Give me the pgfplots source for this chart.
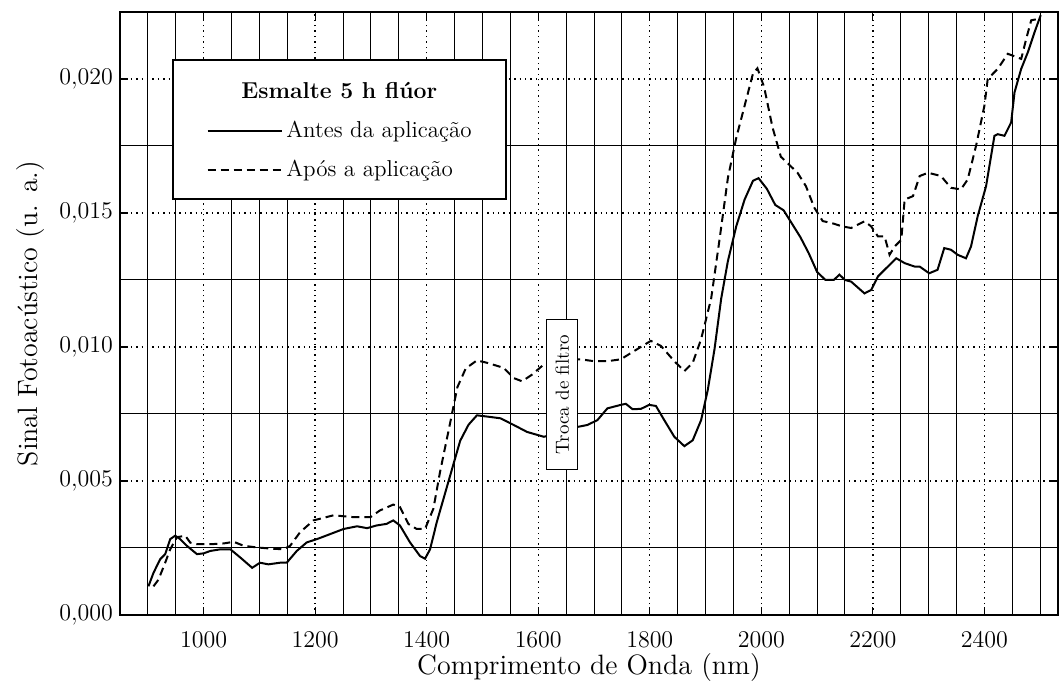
\documentclass[border=0pt]{standalone}
\usepackage{fontspec}
\usepackage{pgfplots}
\pgfplotsset{compat=1.18}
\begin{document}
\begin{tikzpicture}
\begin{axis}[
 scale only axis, width=469pt, height=301.5pt,
 xmin=850, xmax=2532, ymin=0, ymax=0.0225,
 xtick={1000,1200,1400,1600,1800,2000,2200,2400},
 minor xtick={900,950,1050,1100,1150,1250,1300,1350,1450,1500,1550,1650,1700,1750,1850,1900,1950,2050,2100,2150,2250,2300,2350,2450,2500},
 ytick={0,0.005,0.01,0.015,0.02},
 minor ytick={0.0025,0.0075,0.0125,0.0175},
 grid=both,
 major grid style={black, line width=0.7pt, dotted},
 minor grid style={black, line width=0.5pt},
 tick style={black, line width=0.6pt},
 major tick length=4pt, minor tick length=0pt,
 tick align=inside,
 axis line style={line width=0.9pt},
 scaled y ticks=false,
 yticklabel style={/pgf/number format/.cd, fixed, fixed zerofill, precision=3, use comma},
 xticklabel style={/pgf/number format/1000 sep={}, yshift=-5pt},
 ticklabel style={font=\fontsize{12}{14}\selectfont},
 label style={font=\fontsize{14}{16}\selectfont},
 xlabel={Comprimento de Onda (nm)},
 ylabel={Sinal Fotoacústico (u. a.)},
 xlabel style={at={(axis description cs:0.5,-0.0879)}, anchor=center},
 ylabel style={at={(axis description cs:-0.0959,0.5)}, anchor=center},
]
% Antes da aplicacao
\addplot[black, line width=1pt] coordinates {
(901,0.00107)(910,0.00157)(922,0.00208)(931,0.00227)(940,0.00283)(949,0.00296)(958,0.00283)
(970,0.00258)(988,0.00227)(1000,0.0023)(1012,0.00239)(1030,0.00245)(1048,0.00245)(1066,0.00214)
(1087,0.00176)(1101,0.00195)(1116,0.00189)(1137,0.00195)(1149,0.00195)(1167,0.00239)(1185,0.00271)
(1203,0.00283)(1227,0.00302)(1251,0.00321)(1275,0.00331)(1293,0.00324)(1310,0.00334)(1328,0.0034)
(1340,0.00353)(1352,0.00334)(1370,0.00271)(1388,0.0022)(1397,0.0021)(1406,0.00245)(1418,0.00346)
(1442,0.0052)(1460,0.0065)(1475,0.0071)(1490,0.00745)(1510,0.0074)(1532,0.00734)(1556,0.00709)
(1580,0.00683)(1610,0.00665)(1640,0.0068)(1671,0.00702)(1688,0.00709)(1706,0.00727)(1724,0.00771)
(1748,0.00784)(1757,0.00788)(1769,0.00768)(1784,0.00769)(1799,0.00784)(1811,0.0078)(1826,0.00727)
(1844,0.00665)(1862,0.0063)(1877,0.00652)(1892,0.00727)(1904,0.0084)(1916,0.00991)(1928,0.0118)
(1940,0.0132)(1955,0.0145)(1970,0.0155)(1985,0.0162)(1995,0.0163)(2010,0.0159)(2025,0.0153)
(2040,0.0151)(2055,0.0146)(2070,0.0141)(2085,0.0135)(2100,0.0128)(2115,0.0125)(2130,0.0125)
(2140,0.0127)(2150,0.0125)(2161,0.01244)(2185,0.012)(2197,0.01213)(2209,0.01263)(2221,0.01288)
(2242,0.01331)(2257,0.01313)(2275,0.013)(2284,0.013)(2301,0.01275)(2316,0.01288)(2328,0.01369)
(2340,0.01363)(2352,0.01344)(2367,0.01331)(2376,0.01375)(2388,0.01488)(2403,0.0160)(2418,0.01788)
(2424,0.01794)(2436,0.01788)(2448,0.01838)(2454,0.0195)(2466,0.02038)(2478,0.021)(2490,0.02175)
(2501,0.02238)
};
% Apos a aplicacao
\addplot[black, line width=1pt, dash pattern=on 4pt off 2.5pt] coordinates {
(910,0.00107)(919,0.00132)(931,0.00195)(940,0.00245)(952,0.0029)(967,0.00296)(976,0.0027)
(988,0.00264)(1012,0.00264)(1036,0.00267)(1054,0.00273)(1072,0.00258)(1096,0.00252)(1119,0.00248)
(1143,0.00245)(1155,0.00258)(1173,0.00309)(1197,0.00353)(1233,0.00372)(1269,0.00365)(1299,0.00365)
(1316,0.0039)(1340,0.00412)(1352,0.00403)(1367,0.0034)(1382,0.00321)(1397,0.00321)(1412,0.00397)
(1424,0.00535)(1439,0.00686)(1455,0.0085)(1470,0.0092)(1490,0.0095)(1510,0.0094)(1538,0.00922)
(1556,0.00884)(1571,0.00872)(1589,0.00897)(1610,0.00935)(1640,0.0095)(1676,0.00954)(1700,0.00947)
(1724,0.00947)(1748,0.00954)(1772,0.00985)(1802,0.01023)(1820,0.01004)(1844,0.00947)(1862,0.0091)
(1877,0.00941)(1892,0.01029)(1904,0.0113)(1910,0.0118)(1925,0.0140)(1940,0.0163)(1955,0.0178)
(1970,0.0190)(1985,0.0202)(1993,0.0204)(2005,0.0197)(2020,0.0182)(2035,0.0171)(2050,0.0168)
(2065,0.0165)(2080,0.0160)(2095,0.0152)(2110,0.0147)(2130,0.0146)(2145,0.0145)(2161,0.01444)
(2185,0.01469)(2197,0.0145)(2209,0.01413)(2221,0.01413)(2230,0.01344)(2239,0.01375)(2251,0.014)
(2257,0.0155)(2272,0.01563)(2284,0.01638)(2299,0.0165)(2322,0.01638)(2340,0.01594)(2358,0.01588)
(2370,0.01625)(2385,0.0175)(2400,0.0190)(2406,0.0200)(2424,0.02038)(2442,0.02094)(2466,0.02075)
(2475,0.0215)(2484,0.02219)(2499,0.02225)
};
\node[draw, fill=white, line width=0.7pt, rotate=90, minimum width=75pt, minimum height=15.5pt,
 inner sep=1pt, font=\fontsize{9.5}{10}\selectfont] at (axis cs:1643,0.00822) {Troca de filtro};
\node[draw, line width=0.8pt, fill=white, anchor=north west, minimum width=166.5pt,
 minimum height=69.5pt, inner sep=0pt, font=\fontsize{11.5}{19.5}\selectfont]
 at (rel axis cs:0.0554,0.922) {\begin{tabular}{@{}l@{}}
 \multicolumn{1}{@{}c@{}}{\textbf{Esmalte 5 h flúor}}\\
 \tikz[baseline=-0.6ex]\draw[line width=0.8pt] (0,0)--(37pt,0);\,Antes da aplicação\\
 \tikz[baseline=-0.6ex]\draw[line width=0.8pt, dash pattern=on 4pt off 2.5pt] (0,0)--(37pt,0);\,Após a aplicação
 \end{tabular}};
\coordinate (sw) at (rel axis cs:0,0);
\coordinate (ne) at (rel axis cs:1,1);
\end{axis}
\pgfresetboundingbox
\path[use as bounding box] ([shift={(-60pt,-37pt)}]sw) rectangle ([shift={(1pt,6pt)}]ne);
\end{tikzpicture}
\end{document}
